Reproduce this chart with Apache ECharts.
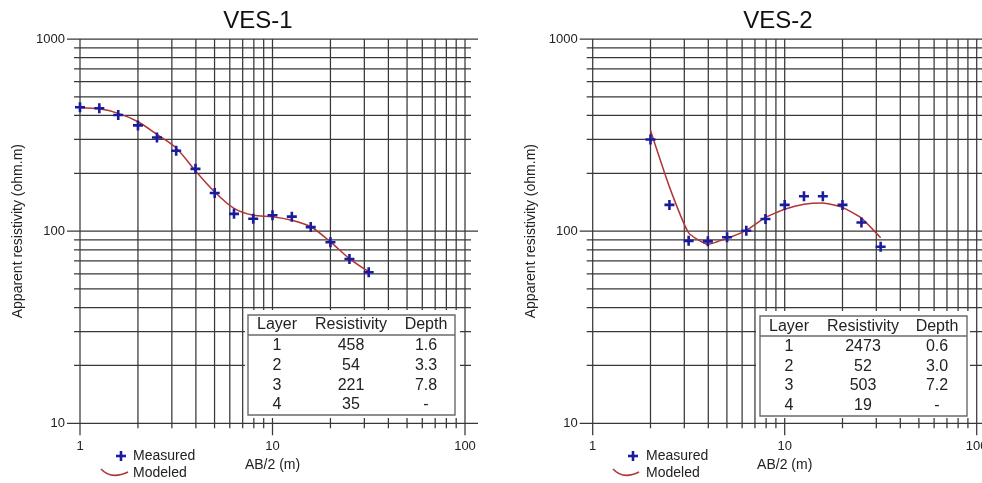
<!DOCTYPE html>
<html>
<head>
<meta charset="utf-8">
<script src="https://cdn.jsdelivr.net/npm/echarts@6/dist/echarts.min.js"></script>
<style>
html,body{margin:0;padding:0;background:#fff;}
#main{width:982px;height:483px;}
</style>
</head>
<body>
<div id="main"></div>
<script>
// ---------- data ----------
const abHalf1 = [1, 1.26, 1.58, 2, 2.51, 3.16, 3.98, 5.01, 6.31, 7.94, 10, 12.6, 15.8, 20, 25.1, 31.6];
const measured1 = [441, 436, 402, 355, 307, 262, 211, 158, 123, 116, 121, 119, 105, 87.5, 71.6, 61.1];
const modeled1 = [439, 433, 410, 371, 319, 271, 206, 160, 131.5, 121, 119, 114, 105.4, 88, 72, 61.5];

const abHalf2 = [2, 2.51, 3.16, 3.98, 5.01, 6.31, 7.94, 10, 12.6, 15.8, 20, 25.1, 31.6];
const measured2 = [300, 137, 89, 88.5, 93, 100.5, 115.6, 137, 152, 152, 137, 111, 83];
const modeled2 = [334, 170, 98, 85.4, 91.8, 101, 118, 130, 138, 140, 133, 117, 92.5];

const tableHeader = ['Layer', 'Resistivity', 'Depth'];
const layers = ['1', '2', '3', '4'];
const resistivity1 = ['458', '54', '221', '35'];
const depth1 = ['1.6', '3.3', '7.8', '-'];
const resistivity2 = ['2473', '52', '503', '19'];
const depth2 = ['0.6', '3.0', '7.2', '-'];

const xGridValues = [1,2,3,4,5,6,7,8,9,10,20,30,40,50,60,70,80,90,100];
const yGridValues = [10,20,30,40,50,60,70,80,90,100,200,300,400,500,600,700,800,900,1000];
const titles = ['VES-1', 'VES-2'];
const xName = 'AB/2 (m)';
const yName = 'Apparent resistivity (ohm.m)';
const legendNames = ['Measured', 'Modeled'];

// ---------- styles ----------
const FONT = '"Liberation Sans", Arial, sans-serif';
const TXT = '#222';
const GRIDC = '#383838';
const BLUE = '#1a1c9e';
const RED = '#b03434';
const PLUS = 'path://M3.7,0H6.3V3.7H10V6.3H6.3V10H3.7V6.3H0V3.7H3.7Z';

const isMajor = v => Math.abs(Math.log10(v) - Math.round(Math.log10(v))) < 1e-9;

const chart = echarts.init(document.getElementById('main'), null, {renderer: 'canvas'});

const grids = [
  {left: 80, top: 39, width: 385, height: 384.3, containLabel: false, outerBoundsMode: 'none'},
  {left: 592.7, top: 39, width: 384, height: 384.3, containLabel: false, outerBoundsMode: 'none'}
];

function xAxisOpt(i) {
  return {
    type: 'log', logBase: 10, min: 1, max: 100, gridIndex: i,
    name: xName, nameLocation: 'middle', nameGap: 35,
    nameTextStyle: {color: TXT, fontFamily: FONT, fontSize: 14},
    axisLine: {show: false}, axisTick: {show: false}, splitLine: {show: false},
    axisLabel: {color: TXT, fontFamily: FONT, fontSize: 13, margin: 17, hideOverlap: false,
      formatter: v => String(Math.round(v))}
  };
}
function yAxisOpt(i) {
  return {
    type: 'log', logBase: 10, min: 10, max: 1000, gridIndex: i,
    name: yName, nameLocation: 'middle', nameGap: 55, nameRotate: 90,
    nameTextStyle: {color: TXT, fontFamily: FONT, fontSize: 14},
    axisLine: {show: false}, axisTick: {show: false}, splitLine: {show: false},
    axisLabel: {color: TXT, fontFamily: FONT, fontSize: 13, margin: 15,
      formatter: v => String(Math.round(v))}
  };
}

function vGridSeries(i) {
  return {
    type: 'custom', xAxisIndex: i, yAxisIndex: i, silent: true, clip: false, z: 1,
    data: xGridValues.map(v => [v, 10]),
    renderItem: function (params, api) {
      const v = api.value(0);
      const top = api.coord([v, 1000]);
      const bot = api.coord([v, 10]);
      const ext = isMajor(v) ? 12 : 5;
      return {type: 'line', shape: {x1: top[0], y1: top[1], x2: bot[0], y2: bot[1] + ext},
        style: {stroke: GRIDC, lineWidth: 1.25}};
    }
  };
}
function hGridSeries(i) {
  return {
    type: 'custom', xAxisIndex: i, yAxisIndex: i, silent: true, clip: false, z: 1,
    data: yGridValues.map(v => [1, v]),
    renderItem: function (params, api) {
      const v = api.value(1);
      const l = api.coord([1, v]);
      const r = api.coord([100, v]);
      const ext = isMajor(v) ? 13 : 6;
      return {type: 'line', shape: {x1: l[0] - ext, y1: l[1], x2: r[0] + ext, y2: r[1]},
        style: {stroke: GRIDC, lineWidth: 1.25}};
    }
  };
}

function dataSeries(i, xs, meas, model) {
  return [
    {type: 'line', name: legendNames[1], xAxisIndex: i, yAxisIndex: i, z: 3,
      data: xs.map((x, k) => [x, model[k]]), showSymbol: false, smooth: i === 0 ? 0.3 : 0.15,
      lineStyle: {color: RED, width: 1.5}},
    {type: 'scatter', name: legendNames[0], xAxisIndex: i, yAxisIndex: i, z: 4,
      data: xs.map((x, k) => [x, meas[k]]), symbol: PLUS, symbolSize: 10,
      itemStyle: {color: BLUE, opacity: 1}}
  ];
}

function tableGraphic(box, mask, cols, rowsY, headerY, sepY, res, dep) {
  const els = [];
  els.push({type: 'rect', z: 50, shape: {x: mask[0], y: mask[1], width: mask[2] - mask[0], height: mask[3] - mask[1]},
    style: {fill: '#fff'}});
  els.push({type: 'rect', z: 51, shape: {x: box[0], y: box[1], width: box[2] - box[0], height: box[3] - box[1]},
    style: {fill: '#fff', stroke: '#6a6a6a', lineWidth: 1.4}});
  els.push({type: 'line', z: 52, shape: {x1: box[0], y1: sepY, x2: box[2], y2: sepY},
    style: {stroke: '#6a6a6a', lineWidth: 1.4}});
  tableHeader.forEach((h, c) => {
    els.push({type: 'text', z: 53, x: cols[c], y: headerY,
      style: {text: h, fill: TXT, font: '16px ' + FONT, align: 'center', verticalAlign: 'middle'}});
  });
  layers.forEach((l, r) => {
    [l, res[r], dep[r]].forEach((t, c) => {
      els.push({type: 'text', z: 53, x: cols[c], y: rowsY[r],
        style: {text: t, fill: TXT, font: '16px ' + FONT, align: 'center', verticalAlign: 'middle'}});
    });
  });
  return els;
}

function legendGraphic(px, textX, curve) {
  return [
    {type: 'rect', z: 60, shape: {x: px - 5, y: 456 - 1.3, width: 10, height: 2.6}, style: {fill: BLUE}},
    {type: 'rect', z: 60, shape: {x: px - 1.3, y: 456 - 5, width: 2.6, height: 10}, style: {fill: BLUE}},
    {type: 'text', z: 60, x: textX, y: 456,
      style: {text: legendNames[0], fill: TXT, font: '14px ' + FONT, align: 'left', verticalAlign: 'middle'}},
    {type: 'bezierCurve', z: 60, shape: {x1: curve[0], y1: 469, cpx1: curve[0] + 10, cpy1: 480, x2: curve[1], y2: 472},
      style: {stroke: RED, lineWidth: 1.5, fill: null}},
    {type: 'text', z: 60, x: textX, y: 473,
      style: {text: legendNames[1], fill: TXT, font: '14px ' + FONT, align: 'left', verticalAlign: 'middle'}}
  ];
}

const graphics = [].concat(
  [{type: 'text', z: 60, x: 258, y: 21, style: {text: titles[0], fill: '#111', font: '24px ' + FONT, align: 'center', verticalAlign: 'middle'}},
   {type: 'text', z: 60, x: 778, y: 21, style: {text: titles[1], fill: '#111', font: '24px ' + FONT, align: 'center', verticalAlign: 'middle'}}],
  tableGraphic([248, 315, 455, 415], [245, 310, 460, 418], [277, 351, 426], [345.7, 365.7, 385.3, 405], 325, 335, resistivity1, depth1),
  tableGraphic([760, 316, 967, 416], [756, 311, 970, 418], [789, 863, 937], [346.7, 366.7, 386, 406], 326.5, 336, resistivity2, depth2),
  legendGraphic(121, 133, [101, 128]),
  legendGraphic(633, 646, [613, 639])
);

chart.setOption({
  animation: false,
  backgroundColor: '#fff',
  grid: grids,
  xAxis: [xAxisOpt(0), xAxisOpt(1)],
  yAxis: [yAxisOpt(0), yAxisOpt(1)],
  series: [vGridSeries(0), hGridSeries(0), vGridSeries(1), hGridSeries(1)]
    .concat(dataSeries(0, abHalf1, measured1, modeled1))
    .concat(dataSeries(1, abHalf2, measured2, modeled2)),
  graphic: {elements: graphics}
});
</script>
</body>
</html>
